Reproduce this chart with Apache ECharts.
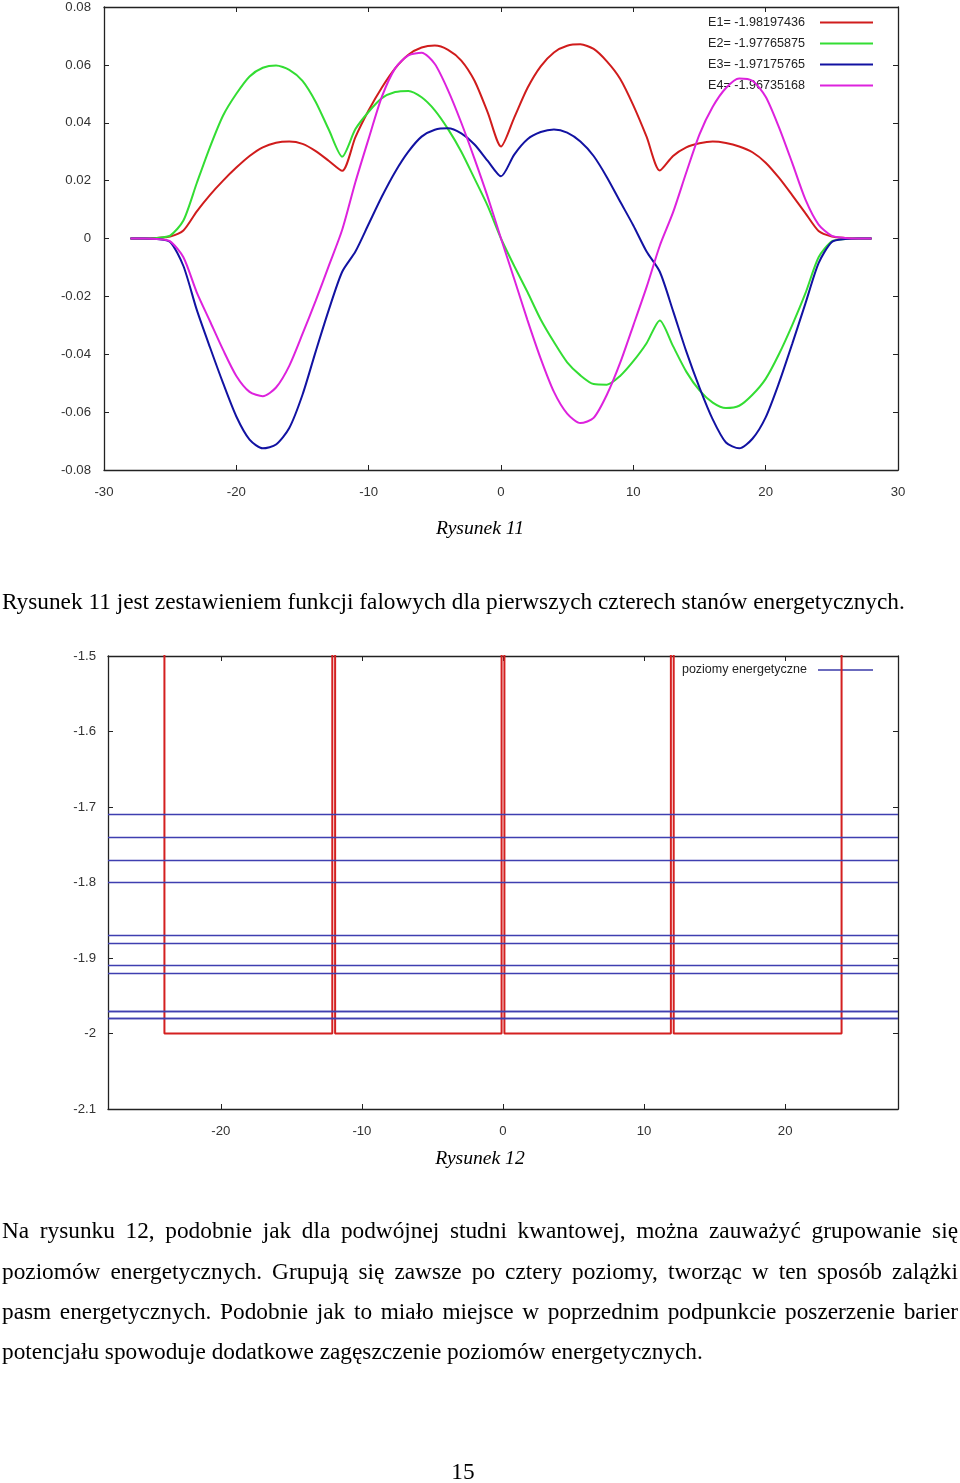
<!DOCTYPE html>
<html>
<head>
<meta charset="utf-8">
<script src="https://cdn.jsdelivr.net/npm/echarts@6/dist/echarts.min.js"></script>
<style>
  html, body { margin: 0; padding: 0; background: #fff; }
  #page { position: relative; width: 960px; height: 1483px; overflow: hidden; }
  #chart { position: absolute; left: 0; top: 0; width: 960px; height: 1483px; }
  .t { position: absolute; font-family: "Liberation Serif", "Times New Roman", serif; color: #000; white-space: nowrap; }
  .cap { left: 0; width: 960px; text-align: center; font-style: italic; font-size: 19.6px; line-height: 24px; }
  .body { font-size: 23.3px; line-height: 28px; }
  .jl { left: 2px; width: 956px; text-align: justify; text-align-last: justify; }
</style>
</head>
<body>
<div id="page">
  <div id="chart"></div>
  <div class="t cap" style="top:516px;">Rysunek 11</div>
  <div class="t body" style="left:2px; top:587px;">Rysunek 11 jest zestawieniem funkcji falowych dla pierwszych czterech stanów energetycznych.</div>
  <div class="t cap" style="top:1146px;">Rysunek 12</div>
  <div class="t body jl" style="top:1216px;">Na rysunku 12, podobnie jak dla podwójnej studni kwantowej, można zauważyć grupowanie się</div>
  <div class="t body jl" style="top:1257px;">poziomów energetycznych. Grupują się zawsze po cztery poziomy, tworząc w ten sposób zalążki</div>
  <div class="t body jl" style="top:1297px;">pasm energetycznych. Podobnie jak to miało miejsce w poprzednim podpunkcie poszerzenie barier</div>
  <div class="t body" style="left:2px; top:1337px;">potencjału spowoduje dodatkowe zagęszczenie poziomów energetycznych.</div>
  <div class="t body" style="left:423px; width:80px; text-align:center; top:1457px;">15</div>
</div>
<script>
// ---------- Data: Rysunek 11 (wave functions) ----------
const xs = [-28,-27,-26,-25,-24,-23,-22,-21,-20,-19,-18,-17,-16,-15,-14,-13,-12,-11,-10,-9,-8,-7,-6,-5,-4,-3,-2,-1,0,
            1,2,3,4,5,6,7,8,9,10,11,12,13,14,15,16,17,18,19,20,21,22,23,24,25,26,27,28];

const psiE1 = [0,0,0.0002,0.0007,0.0028,0.0093,0.0150,0.0200,0.0245,0.0285,0.0315,0.0331,0.0335,0.0327,0.0302,0.0268,0.0234,
               0.0350,0.0443,0.0522,0.0588,0.0635,0.0660,0.0667,0.0652,0.0615,0.0545,0.0435,0.0318,
               0.0418,0.0520,0.0595,0.0643,0.0666,0.0671,0.0655,0.0612,0.0552,0.0460,0.0352,0.0235,
               0.0285,0.0315,0.0329,0.0335,0.0330,0.0318,0.0298,0.0262,0.0210,0.0150,0.0088,0.0026,0.0007,0.0002,0,0];

const psiE2 = [0,0,0.0002,0.0010,0.0062,0.0190,0.0315,0.0425,0.0500,0.0560,0.0590,0.0598,0.0583,0.0545,0.0472,0.0375,0.0283,
               0.0378,0.0438,0.0485,0.0506,0.0510,0.0488,0.0443,0.0378,0.0300,0.0207,0.0112,0,
               -0.0095,-0.0185,-0.0280,-0.0358,-0.0428,-0.0473,-0.0503,-0.0505,-0.0475,-0.0424,-0.0362,-0.0283,
               -0.0372,-0.0460,-0.0525,-0.0567,-0.0586,-0.0578,-0.0540,-0.0485,-0.0400,-0.0300,-0.0190,-0.0065,-0.0010,-0.0002,0,0];

const psiE3 = [0,0,-0.0002,-0.0012,-0.0095,-0.0245,-0.0375,-0.0500,-0.0615,-0.0695,-0.0725,-0.0712,-0.0655,-0.0540,-0.0390,-0.0245,-0.0115,
               -0.0045,0.0050,0.0145,0.0230,0.0300,0.0352,0.0376,0.0381,0.0363,0.0325,0.0268,0.0215,
               0.0290,0.0343,0.0368,0.0377,0.0366,0.0335,0.0285,0.0212,0.0128,0.0045,-0.0045,-0.0115,
               -0.0250,-0.0390,-0.0515,-0.0625,-0.0705,-0.0725,-0.0692,-0.0618,-0.0500,-0.0365,-0.0225,-0.0085,-0.0012,-0.0002,0,0];

const psiE4 = [0,0,-0.0002,-0.0010,-0.0065,-0.0185,-0.0285,-0.0385,-0.0475,-0.0530,-0.0545,-0.0515,-0.0440,-0.0330,-0.0215,-0.0093,0.0030,
               0.0195,0.0345,0.0490,0.0588,0.0633,0.0642,0.0603,0.0512,0.0400,0.0275,0.0143,0,
               -0.0140,-0.0282,-0.0415,-0.0530,-0.0605,-0.0638,-0.0620,-0.0540,-0.0430,-0.0300,-0.0168,-0.0025,
               0.0090,0.0228,0.0360,0.0455,0.0520,0.0553,0.0545,0.0490,0.0385,0.0262,0.0135,0.0048,0.0009,0.0002,0,0];

const stateNames = ['E1= -1.98197436', 'E2= -1.97765875', 'E3= -1.97175765', 'E4= -1.96735168'];
const stateColors = ['#d01c1c', '#33dd33', '#1212a2', '#dd22dd'];

// ---------- Data: Rysunek 12 (potential and energy levels) ----------
const potX = [-24, -24, -12.1, -12.1, -11.9, -11.9, -0.1, -0.1, 0.1, 0.1, 11.9, 11.9, 12.1, 12.1, 24, 24];
const potV = [0, -2, -2, 0, 0, -2, -2, 0, 0, -2, -2, 0, 0, -2, -2, 0];
const levels = [-1.98197436, -1.97765875, -1.97175765, -1.96735168,
                -1.920, -1.905, -1.884, -1.869,
                -1.802, -1.771, -1.737, -1.706];
const levelName = 'poziomy energetyczne';
const fig12XTicks = [-20, -10, 0, 10, 20];

// ---------- Chart ----------
const chart = echarts.init(document.getElementById('chart'), null, { renderer: 'canvas' });
const FONT = '"Liberation Sans", Arial, sans-serif';
const axisLineStyle = { color: '#222', width: 1.3 };
const lbl = { color: '#333', fontSize: 13.2, fontFamily: FONT };

function zip(a, b) { return a.map((v, i) => [v, b[i]]); }
const psi = [psiE1, psiE2, psiE3, psiE4];

const series = psi.map((arr, i) => ({
  name: stateNames[i],
  type: 'line',
  xAxisIndex: 0, yAxisIndex: 0,
  data: zip(xs, arr),
  symbol: 'none',
  smooth: 0.25,
  lineStyle: { color: stateColors[i], width: 2 },
  itemStyle: { color: stateColors[i] },
  z: 3 + i
}));

series.push({
  name: 'potencjal',
  type: 'line',
  xAxisIndex: 2, yAxisIndex: 2,
  data: zip(potX, potV),
  symbol: 'none',
  clip: true,
  lineStyle: { color: '#d42020', width: 2 },
  itemStyle: { color: '#d42020' },
  z: 4
});

series.push({
  name: levelName,
  type: 'line',
  xAxisIndex: 2, yAxisIndex: 2,
  data: [],
  symbol: 'none',
  lineStyle: { color: '#3a3aa8', width: 1.2 },
  itemStyle: { color: '#3a3aa8' },
  markLine: {
    silent: true,
    symbol: ['none', 'none'],
    label: { show: false },
    lineStyle: { color: '#3f3fb0', width: 1.3, type: 'solid' },
    emphasis: { disabled: true },
    data: levels.map(v => ({ yAxis: v }))
  },
  z: 3
});

const option = {
  animation: false,
  backgroundColor: '#fff',
  grid: [
    { left: 104, top: 7, width: 794, height: 463 },
    { left: 108, top: 656, width: 790, height: 453 }
  ],
  xAxis: [
    { type: 'value', gridIndex: 0, position: 'bottom', min: -30, max: 30, interval: 10,
      axisLine: { onZero: false, lineStyle: axisLineStyle },
      axisTick: { inside: true, length: 5, lineStyle: { color: '#222' } },
      axisLabel: Object.assign({ margin: 16 }, lbl),
      splitLine: { show: false } },
    { type: 'value', gridIndex: 0, position: 'top', min: -30, max: 30, interval: 10,
      axisLine: { onZero: false, lineStyle: axisLineStyle },
      axisTick: { inside: true, length: 5, lineStyle: { color: '#222' } },
      axisLabel: { show: false }, splitLine: { show: false } },
    { type: 'value', gridIndex: 1, position: 'bottom', min: -28, max: 28,
      axisLine: { onZero: false, lineStyle: axisLineStyle },
      axisTick: { inside: true, length: 5, lineStyle: { color: '#222' }, customValues: fig12XTicks },
      axisLabel: Object.assign({ margin: 16, customValues: fig12XTicks }, lbl),
      splitLine: { show: false } },
    { type: 'value', gridIndex: 1, position: 'top', min: -28, max: 28,
      axisLine: { onZero: false, lineStyle: axisLineStyle },
      axisTick: { inside: true, length: 5, lineStyle: { color: '#222' }, customValues: fig12XTicks },
      axisLabel: { show: false }, splitLine: { show: false } }
  ],
  yAxis: [
    { type: 'value', gridIndex: 0, position: 'left', min: -0.08, max: 0.08, interval: 0.02,
      axisLine: { show: true, onZero: false, lineStyle: axisLineStyle },
      axisTick: { show: true, inside: true, length: 5, lineStyle: { color: '#222' } },
      axisLabel: Object.assign({ margin: 13 }, lbl),
      splitLine: { show: false } },
    { type: 'value', gridIndex: 0, position: 'right', min: -0.08, max: 0.08, interval: 0.02,
      axisLine: { show: true, onZero: false, lineStyle: axisLineStyle },
      axisTick: { show: true, inside: true, length: 5, lineStyle: { color: '#222' } },
      axisLabel: { show: false }, splitLine: { show: false } },
    { type: 'value', gridIndex: 1, position: 'left', min: -2.1, max: -1.5, interval: 0.1,
      axisLine: { show: true, onZero: false, lineStyle: axisLineStyle },
      axisTick: { show: true, inside: true, length: 5, lineStyle: { color: '#222' } },
      axisLabel: Object.assign({ margin: 12 }, lbl),
      splitLine: { show: false } },
    { type: 'value', gridIndex: 1, position: 'right', min: -2.1, max: -1.5, interval: 0.1,
      axisLine: { show: true, onZero: false, lineStyle: axisLineStyle },
      axisTick: { show: true, inside: true, length: 5, lineStyle: { color: '#222' } },
      axisLabel: { show: false }, splitLine: { show: false } }
  ],
  legend: [
    { data: stateNames, orient: 'vertical', right: 87, top: 15.5, align: 'right', padding: 0,
      icon: 'rect', itemWidth: 53, itemHeight: 2, itemGap: 7,
      textStyle: { color: '#222', fontSize: 12.6, lineHeight: 14, fontFamily: FONT, padding: [0, 10, 0, 0] },
      selectedMode: false },
    { data: [levelName], orient: 'vertical', right: 87, top: 663, align: 'right', padding: 0,
      icon: 'rect', itemWidth: 55, itemHeight: 1.5,
      textStyle: { color: '#222', fontSize: 12.5, lineHeight: 14, fontFamily: FONT, padding: [0, 6, 0, 0] },
      selectedMode: false }
  ],
  series: series
};
chart.setOption(option);
</script>
</body>
</html>
